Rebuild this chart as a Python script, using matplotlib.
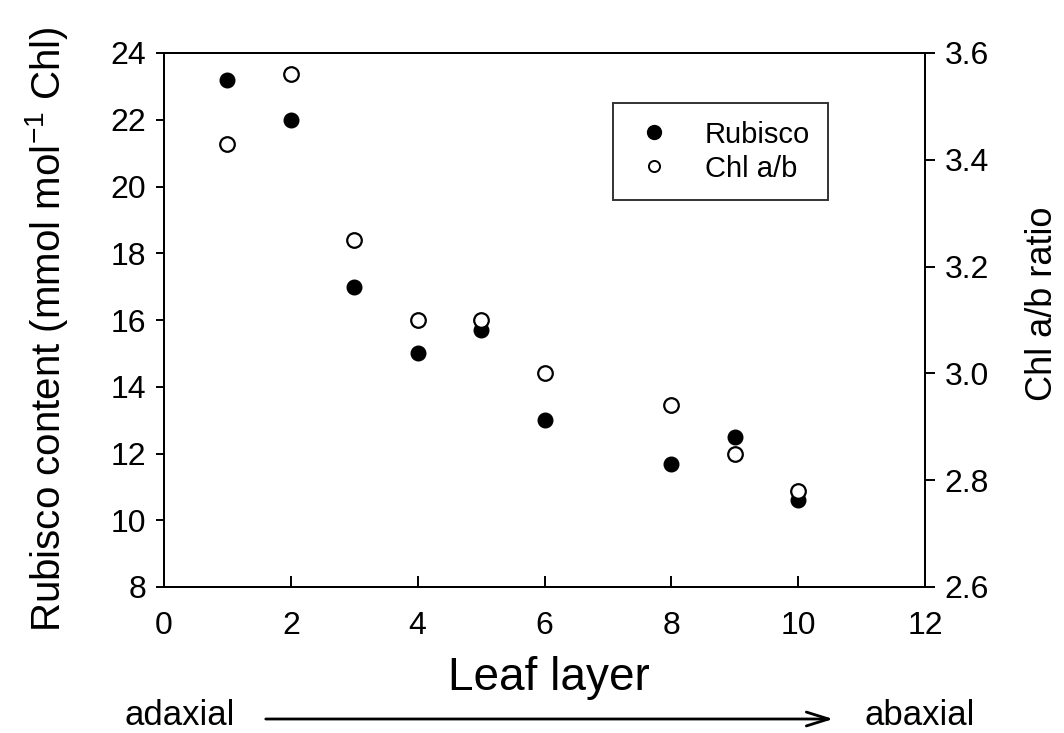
import matplotlib
matplotlib.use("Agg")
import matplotlib.pyplot as plt
from matplotlib.lines import Line2D
from matplotlib.patches import FancyArrowPatch

plt.rcParams['font.family'] = ['Liberation Sans', 'DejaVu Sans']

# leaf layers (adaxial -> abaxial)
layers = [1, 2, 3, 4, 5, 6, 8, 9, 10]
rubisco = [23.2, 22.0, 17.0, 15.0, 15.7, 13.0, 11.7, 12.5, 10.6]
chl_ab = [3.43, 3.56, 3.25, 3.10, 3.10, 3.00, 2.94, 2.85, 2.78]

x_ticks = [0, 2, 4, 6, 8, 10, 12]
left_ticks = [8, 10, 12, 14, 16, 18, 20, 22, 24]
right_ticks = [2.6, 2.8, 3.0, 3.2, 3.4, 3.6]

W, H = 1064, 733


def fx(px):
    return px / W


def fy(py):
    return 1 - py / H


fig = plt.figure(figsize=(W / 100, H / 100), dpi=100)
ax = fig.add_axes([fx(164), fy(587), (925 - 164) / W, (587 - 53) / H])
ax2 = ax.twinx()

ms = 10.5
ax.plot(layers, rubisco, 'o', color='black', ms=ms, mec='black', zorder=3)
ax2.plot(layers, chl_ab, 'o', mfc='white', mec='black', mew=1.6, ms=ms, zorder=3)

ax.set_xlim(0, 12)
ax.set_ylim(8, 24)
ax2.set_ylim(2.6, 3.6)
ax.set_xticks(x_ticks)
ax.set_yticks(left_ticks)
ax2.set_yticks(right_ticks)
ax2.set_yticklabels(['%.1f' % v for v in right_ticks])

for a in (ax, ax2):
    for s in a.spines.values():
        s.set_linewidth(1.4)

ax.tick_params(axis='x', direction='in', length=8, width=1.4, labelsize=23, pad=17)
ax.tick_params(axis='y', direction='out', length=6, width=1.4, labelsize=23, pad=7)
ax2.tick_params(axis='y', direction='out', length=7, width=1.4, labelsize=23, pad=7)

# axis titles
fig.text(fx(549), fy(690), 'Leaf layer', fontsize=33, ha='center', va='baseline')
fig.text(fx(47), fy(329), r'Rubisco content (mmol mol$^{\mathregular{-1}}$ Chl)',
         fontsize=29, rotation=90, ha='center', va='center')
fig.text(fx(1042), fy(304), 'Chl a/b ratio', fontsize=26, rotation=90,
         ha='center', va='center')

handles = [
    Line2D([], [], ls='', marker='o', color='black', ms=10),
    Line2D([], [], ls='', marker='o', mfc='white', mec='black', mew=1.4, ms=8),
]
leg = ax2.legend(handles, ['Rubisco', 'Chl a/b'], loc='upper left',
                 bbox_to_anchor=(0.59, 0.906), fontsize=21, frameon=True,
                 fancybox=False, borderpad=0.6, handletextpad=0.95,
                 labelspacing=0.2, handlelength=1.6, borderaxespad=0)
leg.get_frame().set_edgecolor('black')
leg.get_frame().set_linewidth(1.4)

# orientation note under the x axis
fig.text(fx(125), fy(725), 'adaxial', fontsize=25, ha='left', va='baseline')
fig.text(fx(975), fy(725), 'abaxial', fontsize=25, ha='right', va='baseline')
fig.add_artist(FancyArrowPatch(
    (fx(263), fy(719)), (fx(836), fy(719)), transform=fig.transFigure,
    arrowstyle='->,head_length=16,head_width=5', lw=2, color='black',
    mutation_scale=1))

fig.savefig('out.png', dpi=100)
